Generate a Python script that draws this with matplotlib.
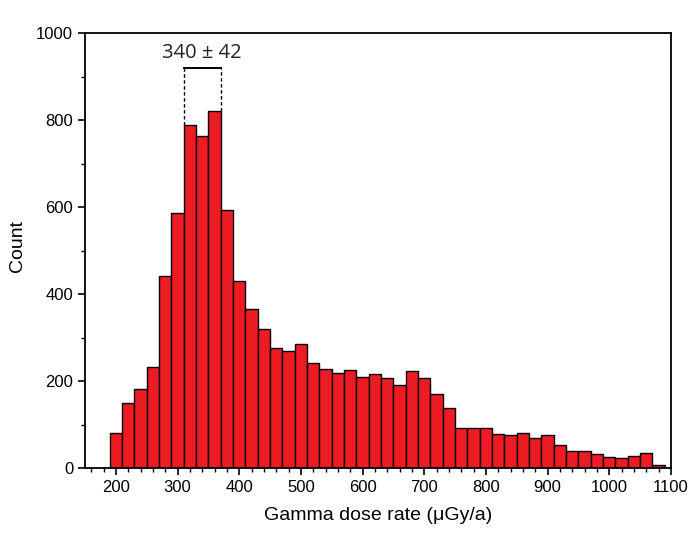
import numpy as np
import matplotlib
matplotlib.use("Agg")
import matplotlib.pyplot as plt
from matplotlib.ticker import MultipleLocator

# histogram bins of 20 uGy/a, from 190 to 1090
bin_edges = np.arange(190, 1091, 20)
counts = [80, 150, 181, 232, 442, 586, 788, 763, 820, 593,
          430, 366, 320, 275, 270, 286, 241, 227, 218, 225,
          209, 217, 208, 190, 224, 208, 171, 138, 92, 92,
          92, 78, 77, 80, 70, 75, 52, 38, 38, 33,
          25, 23, 28, 35, 8]
peak_label = "340 \u00b1 42"
peak_lo, peak_hi = 310, 370

plt.rcParams['font.family'] = ['Liberation Sans', 'DejaVu Sans']

fig = plt.figure(figsize=(7, 5.36), dpi=100)
ax = fig.add_axes([85/700, 1-468/536, (671-85)/700, (468-33)/536])

ax.bar(bin_edges[:-1], counts, width=20, align='edge',
       color='#ED1C24', edgecolor='black', linewidth=1.0)

# bracket over the peak
ax.plot([peak_lo, peak_hi], [920, 920], color='black', lw=1.4)
ax.plot([peak_lo, peak_lo], [counts[6], 920], color='black', lw=1.0, ls=(0, (2.5, 1.8)))
ax.plot([peak_hi, peak_hi], [counts[8], 920], color='black', lw=1.0, ls=(0, (2.5, 1.8)))
ax.text((peak_lo + peak_hi) / 2, 955, peak_label, ha='center', va='center',
        fontsize=14.5, family=['Open Sans', 'DejaVu Sans'], color='#222222')

ax.set_xlim(150, 1100)
ax.set_ylim(0, 1000)
ax.xaxis.set_major_locator(MultipleLocator(100))
ax.xaxis.set_minor_locator(MultipleLocator(20))
ax.yaxis.set_major_locator(MultipleLocator(200))
ax.yaxis.set_minor_locator(MultipleLocator(100))
ax.set_xticks(np.arange(200, 1101, 100))
ax.tick_params(which='major', direction='out', length=5, width=1.2, labelsize=12)
ax.tick_params(which='minor', direction='out', length=3, width=1.0)
for s in ax.spines.values():
    s.set_linewidth(1.3)

ax.set_xlabel('Gamma dose rate (\u03bcGy/a)', fontsize=14, labelpad=9)
ax.set_ylabel('Count', fontsize=14, labelpad=8)
ax.yaxis.set_label_coords(-0.1, 0.51)

fig.savefig('out.png', dpi=100)
